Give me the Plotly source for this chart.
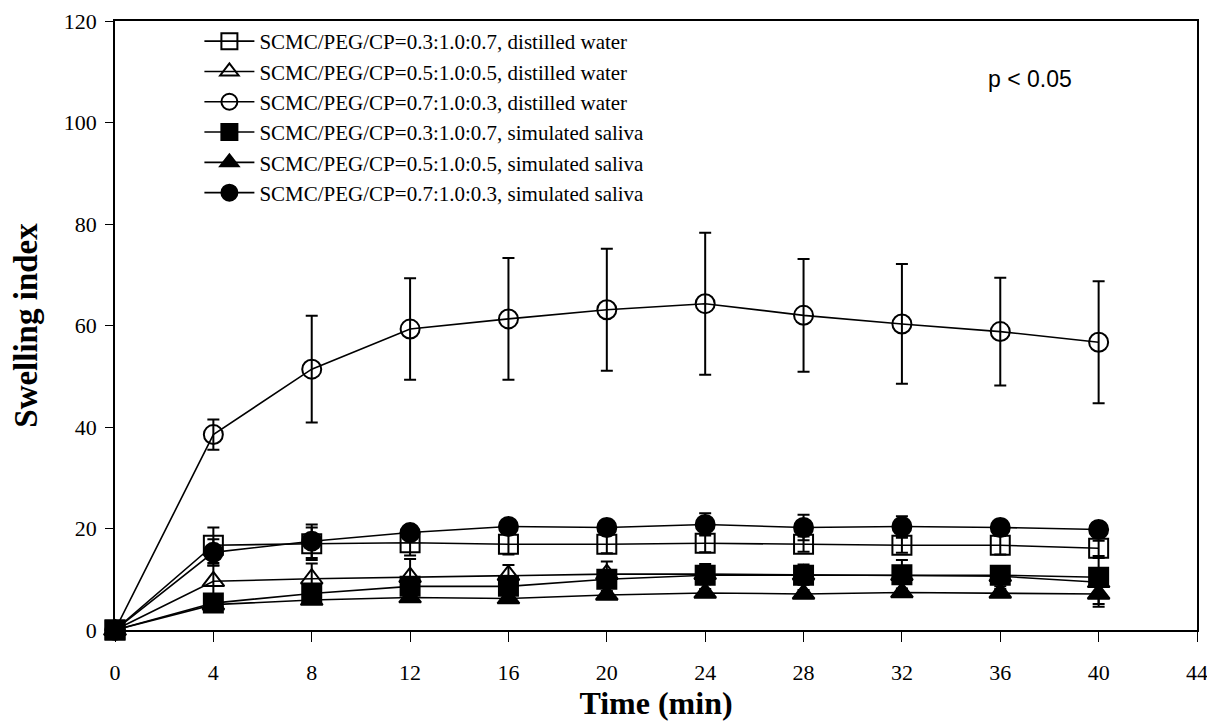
import plotly.graph_objects as go

time_min = [0, 4, 8, 12, 16, 20, 24, 28, 32, 36, 40]

labels = [
    "SCMC/PEG/CP=0.3:1.0:0.7, distilled water",
    "SCMC/PEG/CP=0.5:1.0:0.5, distilled water",
    "SCMC/PEG/CP=0.7:1.0:0.3, distilled water",
    "SCMC/PEG/CP=0.3:1.0:0.7, simulated saliva",
    "SCMC/PEG/CP=0.5:1.0:0.5, simulated saliva",
    "SCMC/PEG/CP=0.7:1.0:0.3, simulated saliva",
]

# distilled water
dw_03 = [0, 16.7, 17.0, 17.2, 16.9, 16.9, 17.1, 16.9, 16.7, 16.7, 16.1]
dw_03_err = [0, 3.5, 3.2, 2.5, 2.0, 1.8, 1.8, 1.5, 1.5, 1.8, 1.5]
dw_05 = [0, 9.6, 10.1, 10.4, 10.8, 11.0, 11.0, 10.9, 10.8, 10.6, 9.4]
dw_05_err = [0, 3.1, 3.0, 3.6, 2.0, 2.5, 2.0, 2.0, 3.0, 2.0, 4.8]
dw_07 = [0, 38.5, 51.4, 59.3, 61.3, 63.1, 64.3, 62.0, 60.3, 58.8, 56.7]
dw_07_err = [0, 3.0, 10.5, 10.0, 12.0, 12.0, 14.0, 11.1, 11.8, 10.6, 12.0]

# simulated saliva
ss_03 = [0, 5.3, 7.2, 8.6, 8.6, 10.0, 10.8, 10.8, 10.9, 10.8, 10.4]
ss_03_err = [0, 1.0, 1.0, 1.2, 1.2, 1.5, 1.2, 1.2, 1.0, 1.5, 1.5]
ss_05 = [0, 5.0, 5.9, 6.4, 6.2, 6.9, 7.3, 7.1, 7.4, 7.3, 7.1]
ss_05_err = [0, 0.8, 0.8, 0.8, 0.8, 0.8, 0.8, 0.8, 0.8, 0.8, 2.0]
ss_07 = [0, 15.3, 17.5, 19.2, 20.4, 20.2, 20.8, 20.2, 20.4, 20.2, 19.8]
ss_07_err = [0, 2.6, 3.3, 1.5, 1.2, 1.5, 2.2, 2.5, 2.0, 1.5, 1.5]

series = [
    (dw_03, dw_03_err, "square-open"),
    (dw_05, dw_05_err, "triangle-up-open"),
    (dw_07, dw_07_err, "circle-open"),
    (ss_03, ss_03_err, "square"),
    (ss_05, ss_05_err, "triangle-up"),
    (ss_07, ss_07_err, "circle"),
]

fig = go.Figure()

for (vals, errs, sym), name in zip(series, labels):
    fig.add_trace(go.Scatter(
        x=time_min,
        y=vals,
        name=name,
        mode="lines+markers",
        line=dict(color="black", width=1.6),
        marker=dict(symbol=sym, size=19, color="black",
                    line=dict(color="black", width=2)),
        error_y=dict(type="data", array=errs, visible=True,
                     color="black", thickness=2, width=6),
        cliponaxis=False,
    ))

fig.add_annotation(
    x=0.805, y=0.905, xref="paper", yref="paper",
    xanchor="left", yanchor="middle",
    text="p < 0.05", showarrow=False,
    font=dict(family="Liberation Sans", size=23, color="black"),
)

# the page body adds an 8px offset, margins below account for it
fig.update_layout(
    width=1215,
    height=721,
    margin=dict(l=107, r=26, t=13, b=99),
    plot_bgcolor="white",
    paper_bgcolor="white",
    font=dict(family="Liberation Serif", size=22, color="black"),
    legend=dict(
        x=0.078, y=1.0, xanchor="left", yanchor="top",
        bgcolor="rgba(0,0,0,0)",
        font=dict(family="Liberation Serif", size=21),
        itemsizing="trace",
        itemwidth=50,
        tracegroupgap=0,
    ),
)

fig.update_xaxes(
    range=[0, 44],
    tickvals=list(range(0, 45, 4)),
    ticks="outside", ticklen=10, tickwidth=1, tickcolor="black",
    tickfont=dict(size=22), ticklabelstandoff=12, ticklabeloverflow="allow",
    showline=True, linecolor="black", linewidth=1.5, mirror=True,
    showgrid=False, zeroline=False, automargin=False,
    title=dict(text="<b>Time (min)</b>", font=dict(size=32), standoff=6),
)

fig.update_yaxes(
    range=[0, 120],
    tickvals=list(range(0, 121, 20)),
    ticks="outside", ticklen=8, tickwidth=1, tickcolor="black",
    tickfont=dict(size=22), ticklabelstandoff=4, ticklabeloverflow="allow",
    showline=True, linecolor="black", linewidth=1.5, mirror=True,
    showgrid=False, zeroline=False, automargin=False,
    title=dict(text="<b>Swelling index</b>", font=dict(size=33), standoff=36),
)

fig.write_html("out.html")
